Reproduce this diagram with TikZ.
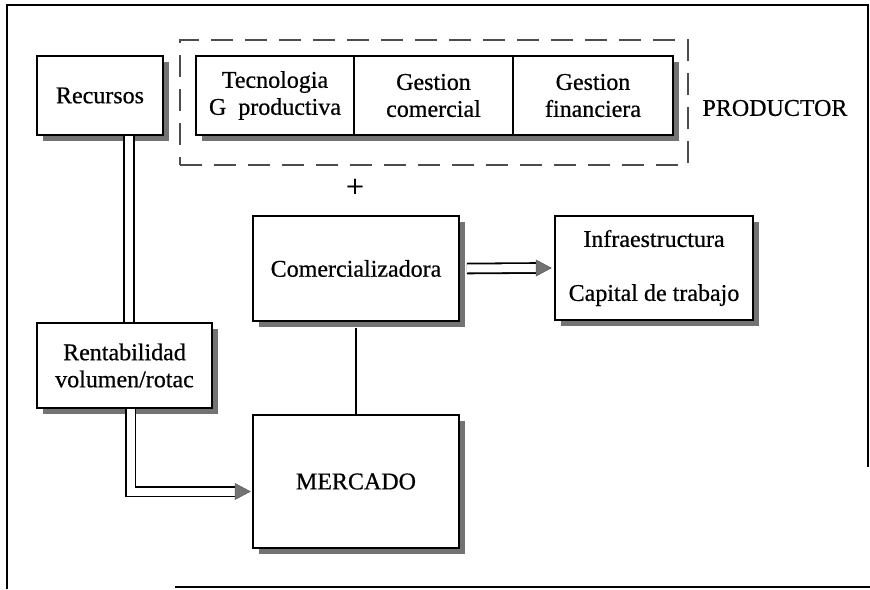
\documentclass[tikz,border=0pt]{standalone}
\usepackage{fontspec}
\setmainfont{Liberation Serif}[FakeBold=0.6]
\usetikzlibrary{shadows}
\begin{document}
\begin{tikzpicture}[x=1pt,y=-1pt,
  txt/.style={font=\fontsize{24}{27}\selectfont, align=center, inner sep=0pt},
  box/.style={txt, draw, line width=1.6pt, fill=white,
    drop shadow={shadow xshift=6pt, shadow yshift=-6pt, fill=black!55, opacity=1}},
  dbl/.style={double, double distance=8pt, line width=1.8pt},
  head/.style={fill=black!55, draw=black!65, line width=0.5pt},
  frame/.style={line width=1.4pt}
]
\useasboundingbox (0,0) rectangle (870,589);

% outer frame
\draw[frame] (7,589) -- (7,5) -- (868,5) -- (868,467);
\draw[frame] (175,587) -- (870,587);

% producer group
\node[draw=black!70, line width=1.8pt, dash pattern=on 22pt off 12pt,
      minimum width=508pt, minimum height=125pt, inner sep=0pt] (grp) at (434,102.5) {};
\node[box, minimum width=126pt, minimum height=79pt] (rec) at (100,95.5) {Recursos};
\node[box, minimum width=158pt, minimum height=79pt] (tec) at (275,95.5) {Tecnologia\\G\ \ productiva};
\node[box, minimum width=159pt, minimum height=79pt] (gcom) at (433.5,95.5) {Gestion\\comercial};
\node[box, minimum width=160pt, minimum height=79pt] (gfin) at (593,95.5) {Gestion\\financiera};
\node[txt] (prod) at (775,108) {PRODUCTOR};
\node[txt, font=\fontsize{32}{32}\selectfont] (plus) at (355,188) {+};

% market side
\node[box, minimum width=206pt, minimum height=105pt] (comz) at (356,268.5) {Comercializadora};
\node[box, minimum width=198pt, minimum height=104pt] (infra) at (654,268) {Infraestructura\\[27pt]Capital de trabajo};
\node[box, minimum width=175pt, minimum height=85pt] (rent) at (124.5,365.5) {Rentabilidad\\volumen/rotac};
\node[box, minimum width=206pt, minimum height=133pt] (merc) at (356,481.5) {MERCADO};

% connectors
\coordinate (r1) at ([xshift=29pt]rec.south);
\draw[dbl] (r1) -- (r1 |- rent.north);
\coordinate (r2) at ([xshift=6pt]rent.south);
\coordinate (m1) at ([shift={(-17,10)}]merc.west);
\draw[dbl] (r2) |- (m1);
\fill[head] (m1) ++(0,-8) -- ++(15,8) -- ++(-15,8) -- cycle;

\coordinate (c1) at ([xshift=7pt]comz.east);
\coordinate (c2) at ([xshift=-18pt]infra.west);
\draw[dbl] (c1) -- (c2);
\fill[head] (c2) ++(0,-8) -- ++(15,8) -- ++(-15,8) -- cycle;

\draw[line width=1.8pt] ([yshift=-6pt]comz.south) -- (merc.north);
\end{tikzpicture}
\end{document}
